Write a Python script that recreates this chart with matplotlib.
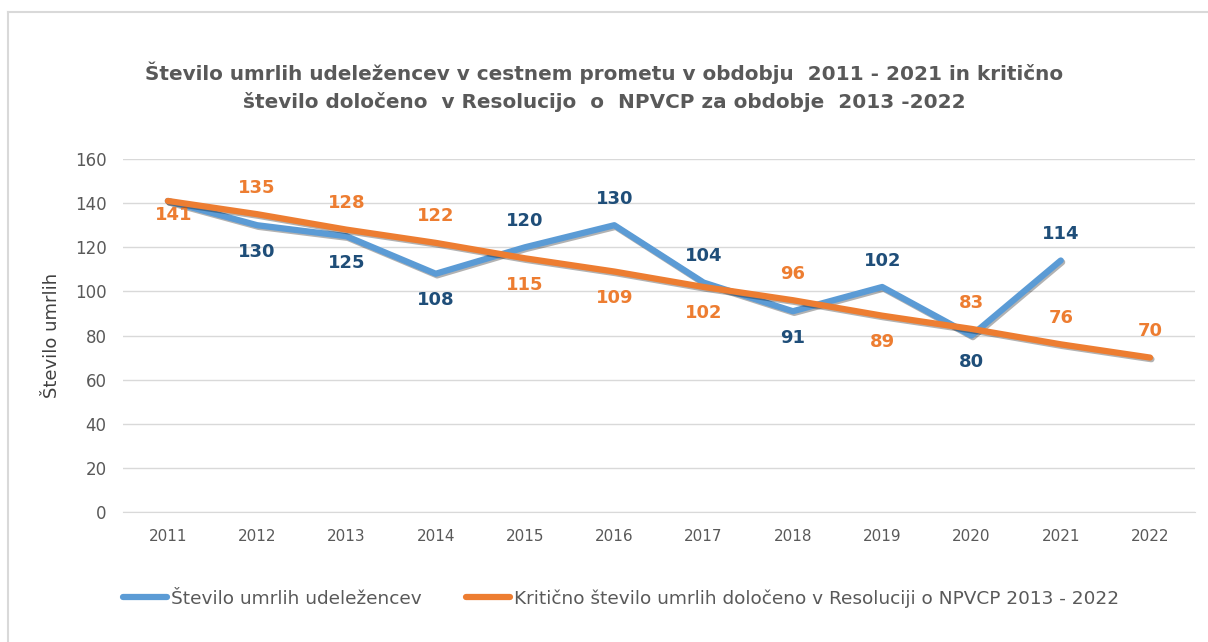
import matplotlib.pyplot as plt
import matplotlib.patheffects as pe
from matplotlib.lines import Line2D

plt.rcParams['font.family'] = ['DejaVu Sans']

years = ['2011', '2012', '2013', '2014', '2015', '2016', '2017', '2018', '2019', '2020', '2021', '2022']
umrli = [141, 130, 125, 108, 120, 130, 104, 91, 102, 80, 114]
kriticno = [141, 135, 128, 122, 115, 109, 102, 96, 89, 83, 76, 70]

# label above (+1) or below (-1) the point
umrli_pos = [0, -1, -1, -1, 1, 1, 1, -1, 1, -1, 1]
kriticno_pos = [-1, 1, 1, 1, -1, -1, -1, 1, -1, 1, 1, 1]

BLUE = '#5B9BD5'
ORANGE = '#ED7D31'
DARKBLUE = '#1F4E79'
GRAY = '#595959'

fig = plt.figure(figsize=(12.08, 6.42), dpi=100)
ax = fig.add_axes([0.102, 0.2025, 0.887, 0.5498])

shadow = [pe.SimpleLineShadow(offset=(1.0, -1.2), shadow_color='black', alpha=0.3), pe.Normal()]
x1 = range(len(umrli))
x2 = range(len(kriticno))
ax.plot(x1, umrli, color=BLUE, lw=4.5, solid_capstyle='round', solid_joinstyle='round',
        zorder=3, path_effects=shadow)
ax.plot(x2, kriticno, color=ORANGE, lw=4.5, solid_capstyle='round', solid_joinstyle='round',
        zorder=4, path_effects=shadow)

for i, (v, p) in enumerate(zip(umrli, umrli_pos)):
    if p == 0:
        continue
    ax.annotate(str(v), (i, v), xytext=(0, 19 * p), textcoords='offset points',
                ha='center', va='center', fontsize=13, fontweight='bold', color=DARKBLUE)
for i, (v, p) in enumerate(zip(kriticno, kriticno_pos)):
    dx = 4 if i == 0 else 0
    dy = -10 if i == 0 else 19 * p
    ax.annotate(str(v), (i, v), xytext=(dx, dy), textcoords='offset points',
                ha='center', va='center', fontsize=13, fontweight='bold', color=ORANGE)

ax.set_xlim(-0.5, len(years) - 0.5)
ax.set_ylim(0, 160)
ax.set_yticks(range(0, 161, 20))
ax.set_xticks(range(len(years)))
ax.set_xticklabels(years)
ax.grid(axis='y', color='#D9D9D9', lw=1)
ax.set_axisbelow(True)
for s in ['top', 'right', 'left']:
    ax.spines[s].set_visible(False)
ax.spines['bottom'].set_color('#D9D9D9')
ax.tick_params(axis='y', length=0, labelsize=12, labelcolor=GRAY, pad=12)
ax.tick_params(axis='x', length=0, labelsize=11, labelcolor=GRAY, pad=12)

ax.set_ylabel('Število umrlih', fontsize=13, color='#404040', labelpad=10)

fig.text(0.5, 0.865, 'Število umrlih udeležencev v cestnem prometu v obdobju  2011 - 2021 in kritično\n'
         'število določeno  v Resolucijo  o  NPVCP za obdobje  2013 -2022',
         ha='center', va='center', fontsize=14.4, fontweight='bold', color=GRAY,
         linespacing=1.5)

handles = [Line2D([], [], color=BLUE, lw=4.5, solid_capstyle='round'),
           Line2D([], [], color=ORANGE, lw=4.5, solid_capstyle='round')]
labels = ['Število umrlih udeležencev',
          'Kritično število umrlih določeno v Resoluciji o NPVCP 2013 - 2022']
fig.legend(handles, labels, loc='center', bbox_to_anchor=(0.514, 0.068), ncol=2, frameon=False,
           labelcolor=GRAY, handlelength=2.4, handletextpad=0.2,
           columnspacing=2.4, prop={'size': 13.3})

# outer frame
fig.add_artist(Line2D([0.0066, 1.0], [0.981, 0.981], color='#D9D9D9', lw=1.5,
                      transform=fig.transFigure))
fig.add_artist(Line2D([0.0066, 0.0066], [0.0, 0.981], color='#D9D9D9', lw=1.5,
                      transform=fig.transFigure))

fig.savefig('out.png', dpi=100)
